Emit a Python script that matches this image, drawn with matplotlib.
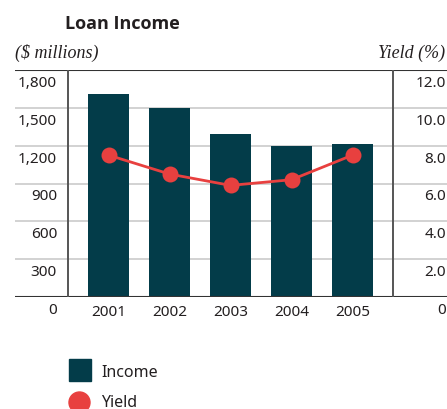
"""
Loan income bars with yield line on a secondary scale.
"""
import matplotlib
matplotlib.use("Agg")
import matplotlib.pyplot as plt
import matplotlib.transforms as mtransforms
from matplotlib.patches import Rectangle, Ellipse

# ---------- data ----------
YEARS = ["2001", "2002", "2003", "2004", "2005"]
INCOME = [1610, 1500, 1295, 1200, 1215]      # $ millions
YIELD = [7.5, 6.5, 5.9, 6.2, 7.5]            # %

INCOME_TICKS = [0, 300, 600, 900, 1200, 1500, 1800]
INCOME_LABELS = ["0", "300", "600", "900", "1,200", "1,500", "1,800"]
YIELD_TICKS = [0, 2, 4, 6, 8, 10, 12]
YIELD_LABELS = ["0", "2.0", "4.0", "6.0", "8.0", "10.0", "12.0"]

# ---------- style ----------
BAR_COLOR = "#033c49"
RED = "#e8403f"
GRID = "#cbcbcb"
TXT = "#231f20"
SANS = ["Noto Sans", "DejaVu Sans"]
SANS_BOLD = ["Open Sans", "DejaVu Sans"]
SERIF = ["Liberation Serif", "DejaVu Serif"]

W, H = 447, 409
fig = plt.figure(figsize=(W / 100, H / 100), dpi=100)

def fx(px):
    return px / W

def fy(py):
    return 1 - py / H

# plot area spans the full gridline width; bars sit between the two rules
ax = fig.add_axes([fx(15), fy(297), fx(447) - fx(15), fy(70) - fy(297)])
x = list(range(len(YEARS)))
x_left, x_right = -1.533, 5.549
ax.set_xlim(x_left, x_right)
ax.set_ylim(0, 1800)

for v in INCOME_TICKS[1:-1]:
    ax.axhline(v, color=GRID, lw=1.2, zorder=0)
ax.axhline(1800, color="#333333", lw=1.5, zorder=3)
ax.axhline(0, color="#333333", lw=1.5, zorder=3)
for xv in (-0.664, 4.664):
    ax.axvline(xv, color="#555555", lw=1.4, zorder=3)

ax.bar(x, INCOME, width=0.67, color=BAR_COLOR, zorder=2)

for s in ax.spines.values():
    s.set_visible(False)
ax.set_xticks([])
ax.set_yticks([])

# tick labels sit below their gridlines
below_left = mtransforms.offset_copy(ax.transData, fig, y=-17, units="dots")
for v, lab in zip(INCOME_TICKS, INCOME_LABELS):
    ax.text(-0.844, v, lab, ha="right", va="baseline", fontsize=11,
            family=SANS, color=TXT, transform=below_left)

below_x = mtransforms.offset_copy(ax.transData, fig, y=-19, units="dots")
for xi, lab in zip(x, YEARS):
    ax.text(xi, 0, lab, ha="center", va="baseline", fontsize=11,
            family=SANS, color=TXT, transform=below_x)

ax2 = ax.twinx()
ax2.set_ylim(0, 12)
ax2.set_xlim(x_left, x_right)
ax2.plot(x, YIELD, color=RED, lw=2.0, marker="o", ms=11.5,
         markeredgewidth=0, zorder=4)
for s in ax2.spines.values():
    s.set_visible(False)
ax2.set_yticks([])

below_right = mtransforms.offset_copy(ax2.transData, fig, y=-17, units="dots")
for v, lab in zip(YIELD_TICKS, YIELD_LABELS):
    ax2.text(5.533, v, lab, ha="right", va="baseline", fontsize=11,
             family=SANS, color=TXT, transform=below_right)

# titles
fig.text(fx(65), fy(29), "Loan Income", ha="left", va="baseline",
         fontsize=13, fontweight="bold", family=SANS_BOLD, color=TXT)
fig.text(fx(15), fy(58), "($ millions)", ha="left", va="baseline",
         fontsize=13, style="italic", family=SERIF, color=TXT)
fig.text(fx(445), fy(58), "Yield (%)", ha="right", va="baseline",
         fontsize=13, style="italic", family=SERIF, color=TXT)

# legend
fig.add_artist(Rectangle((fx(69), fy(381)), fx(22), fy(359) - fy(381),
                         transform=fig.transFigure, color=BAR_COLOR))
fig.text(fx(101), fy(377), "Income", ha="left", va="baseline",
         fontsize=11.5, family=SANS, color=TXT)
fig.add_artist(Ellipse((fx(79.5), fy(402.5)), fx(21), fx(21) * W / H,
                       transform=fig.transFigure, color=RED))
fig.text(fx(101), fy(407), "Yield", ha="left", va="baseline",
         fontsize=11.5, family=SANS, color=TXT)

fig.savefig("out.png", dpi=100)
